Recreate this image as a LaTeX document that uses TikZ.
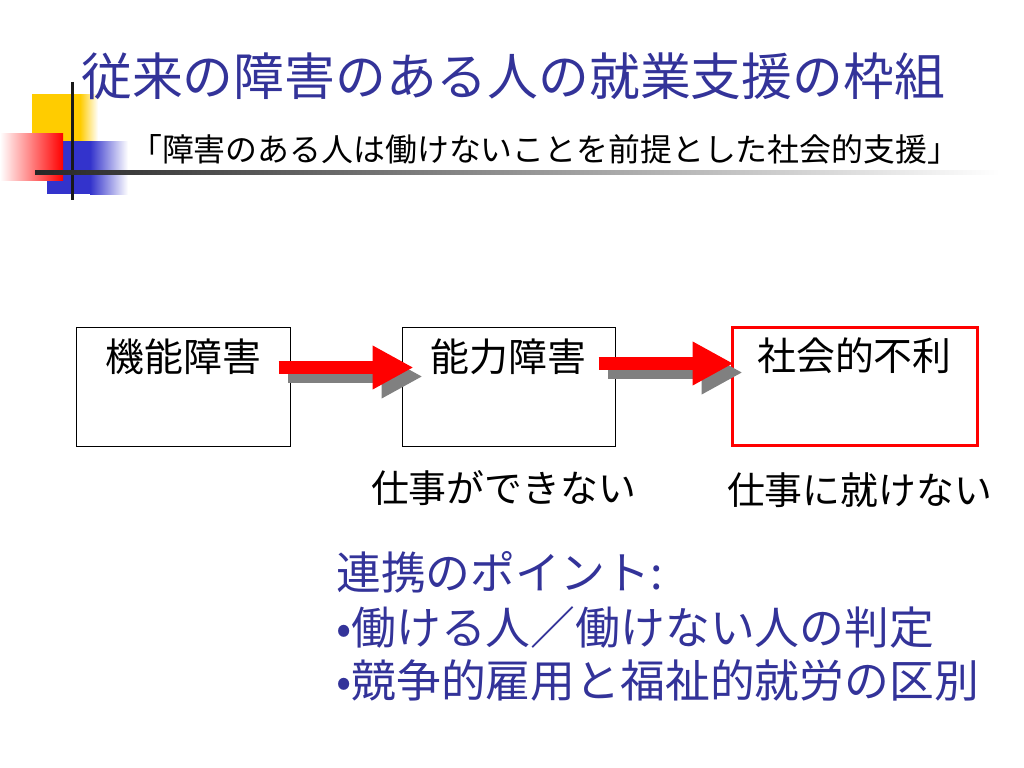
\documentclass[tikz,border=0pt]{standalone}
\usepackage{fontspec}
\setmainfont{Noto Sans CJK JP}
\usetikzlibrary{positioning,arrows.meta}
\definecolor{titleblue}{RGB}{51,51,153}
\definecolor{decoyellow}{RGB}{255,204,0}
\definecolor{decoblue}{RGB}{51,51,204}
\begin{document}
\begin{tikzpicture}[x=1bp,y=-1bp,
box/.style={draw, line width=1bp, minimum width=213bp, minimum height=119bp, inner sep=0pt},
boxtext/.style={font=\fontsize{39}{39}\selectfont, inner sep=0pt, anchor=base},
note/.style={font=\fontsize{38}{38}\selectfont, inner sep=0pt, anchor=base},
point/.style={font=\fontsize{45}{45}\selectfont, text=titleblue, inner sep=0pt, anchor=base west},
bigarrow/.style={line width=13bp, -{Triangle[length=41bp,width=41bp]}}
]
\useasboundingbox (0,0) rectangle (1024,768);

% corner decoration
\fill[decoyellow] (32,94) rectangle (81,142);
\shade[left color=decoyellow, right color=white] (80,94) rectangle (98,142);
\fill[decoblue] (47,141) rectangle (91,194);
\shade[left color=decoblue, right color=white] (90,141) rectangle (128,194);
\shade[left color=white, right color=red] (0,133) rectangle (63,180);
\draw[line width=3bp, black!90] (72,82) -- (72,200);
\shade[left color=black!85, right color=white] (35,170) rectangle (1000,174);

\node[font=\fontsize{51}{51}\selectfont, text=titleblue, anchor=base west, inner sep=0pt] (title) at (81,96) {従来の障害のある人の就業支援の枠組};
\node[font=\fontsize{32}{32}\selectfont, anchor=base west, inner sep=0pt] (sub) at (130,161) {「障害のある人は働けないことを前提とした社会的支援」};

\node[box] (b1) at (183.5,386.5) {};
\node[box, right=111bp of b1] (b2) {};
\node[box, draw=red, line width=3bp, minimum width=245bp, minimum height=118bp, right=115bp of b2] (b3) {};

\node[boxtext] (t1) at ([yshift=-45bp]b1.north) {機能障害};
\node[boxtext] (t2) at ([yshift=-45bp]b2.north) {能力障害};
\node[boxtext] (t3) at ([yshift=-44bp]b3.north) {社会的不利};

\foreach \from/\to/\s/\e/\h in {b1/b2/-12bp/12bp/19bp, b2/b3/-17bp/3bp/23bp}{
  \draw[bigarrow, black!50] ([shift={(\s+9bp,\h-9bp)}]\from.east) -- ([shift={(\e+9bp,\h-9bp)}]\to.west);
  \draw[bigarrow, red] ([shift={(\s,\h)}]\from.east) -- ([shift={(\e,\h)}]\to.west);
}

\node[note] (n2) at ([shift={(-5bp,-56bp)}]b2.south) {仕事ができない};
\node[note] (n3) at ([shift={(5bp,-57bp)}]b3.south) {仕事に就けない};

\node[point] (p1) at (336,589) {連携のポイント:};
\node[point] (p2) at (336,644) {•働ける人／働けない人の判定};
\node[point] (p3) at (336,697) {•競争的雇用と福祉的就労の区別};
\end{tikzpicture}
\end{document}
